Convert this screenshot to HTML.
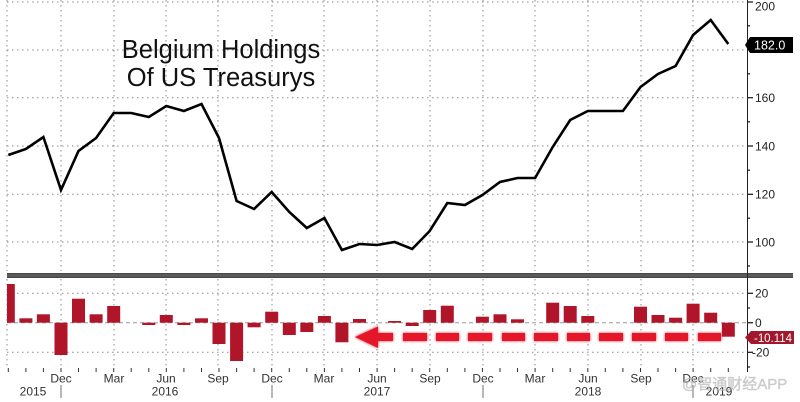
<!DOCTYPE html>
<html><head><meta charset="utf-8"><style>
html,body{margin:0;padding:0;background:#fff;}
svg{display:block;}
text{font-family:"Liberation Sans","Noto Sans CJK SC",sans-serif;}
</style></head><body>
<svg width="800" height="402" viewBox="0 0 800 402" xmlns="http://www.w3.org/2000/svg">
<defs>
<filter id="glow" x="-20%" y="-100%" width="140%" height="300%">
<feGaussianBlur in="SourceGraphic" stdDeviation="1.4" result="b"/>
<feMerge><feMergeNode in="b"/><feMergeNode in="SourceGraphic"/></feMerge>
</filter>
</defs>
<rect width="800" height="402" fill="#fff"/>
<g stroke="#8a8a8a" stroke-width="1" stroke-dasharray="1.5 3.5" fill="none">
<line x1="7" y1="2" x2="747" y2="2"/>
<line x1="7" y1="50" x2="747" y2="50"/>
<line x1="7" y1="97.7" x2="747" y2="97.7"/>
<line x1="7" y1="146" x2="747" y2="146"/>
<line x1="7" y1="194.3" x2="747" y2="194.3"/>
<line x1="7" y1="242" x2="747" y2="242"/>
<line x1="7" y1="0" x2="7" y2="271"/>
<line x1="61" y1="0" x2="61" y2="271"/>
<line x1="114" y1="0" x2="114" y2="271"/>
<line x1="166" y1="0" x2="166" y2="271"/>
<line x1="218" y1="0" x2="218" y2="271"/>
<line x1="272" y1="0" x2="272" y2="271"/>
<line x1="324" y1="0" x2="324" y2="271"/>
<line x1="377" y1="0" x2="377" y2="271"/>
<line x1="430" y1="0" x2="430" y2="271"/>
<line x1="483" y1="0" x2="483" y2="271"/>
<line x1="535" y1="0" x2="535" y2="271"/>
<line x1="588" y1="0" x2="588" y2="271"/>
<line x1="641" y1="0" x2="641" y2="271"/>
<line x1="693" y1="0" x2="693" y2="271"/>
<line x1="7" y1="293.3" x2="747" y2="293.3"/>
<line x1="7" y1="352.3" x2="747" y2="352.3"/>
<line x1="7" y1="279" x2="7" y2="369"/>
<line x1="61" y1="279" x2="61" y2="369"/>
<line x1="114" y1="279" x2="114" y2="369"/>
<line x1="166" y1="279" x2="166" y2="369"/>
<line x1="218" y1="279" x2="218" y2="369"/>
<line x1="272" y1="279" x2="272" y2="369"/>
<line x1="324" y1="279" x2="324" y2="369"/>
<line x1="377" y1="279" x2="377" y2="369"/>
<line x1="430" y1="279" x2="430" y2="369"/>
<line x1="483" y1="279" x2="483" y2="369"/>
<line x1="535" y1="279" x2="535" y2="369"/>
<line x1="588" y1="279" x2="588" y2="369"/>
<line x1="641" y1="279" x2="641" y2="369"/>
<line x1="693" y1="279" x2="693" y2="369"/>
</g>
<line x1="7" y1="322.7" x2="747" y2="322.7" stroke="#999" stroke-width="1" stroke-dasharray="4 3"/>

<text x="221" y="58" font-size="25.5" text-anchor="middle" fill="#111">Belgium Holdings</text>
<text x="221" y="86" font-size="25.5" text-anchor="middle" fill="#111">Of US Treasurys</text>

<polyline fill="none" stroke="#000" stroke-width="2.6" stroke-linejoin="miter" points="8.3,155 25.9,149 43.4,137 61.0,190 78.5,151 96.1,138 113.7,113 131.2,113 148.8,117 166.3,106 183.9,111 201.5,104 219.0,138 236.6,201 254.1,209 271.7,192 289.3,212 306.8,228 324.4,218 341.9,250 359.5,244 377.1,245 394.6,242 412.2,249 429.7,231 447.3,203 464.9,205 482.4,195 500.0,182 517.5,178 535.1,178 552.7,147 570.2,120 587.8,111 605.3,111 622.9,111 640.5,87 658.0,74 675.6,66 693.1,35 710.7,20 728.3,44"/>

<rect x="7" y="273" width="786" height="5" fill="#4a4a4a"/>
<rect x="7" y="274.3" width="786" height="2.2" fill="#5e5e5e"/>

<g fill="#b01529">
<rect x="7" y="284" width="7.8" height="38.7"/>
<rect x="19.4" y="318.3" width="13" height="4.4"/>
<rect x="36.9" y="314.3" width="13" height="8.4"/>
<rect x="54.5" y="322.7" width="13" height="32.3"/>
<rect x="72.0" y="298.7" width="13" height="24"/>
<rect x="89.6" y="314.3" width="13" height="8.4"/>
<rect x="107.2" y="306" width="13" height="16.7"/>
<rect x="142.3" y="322.7" width="13" height="2.3"/>
<rect x="159.8" y="315" width="13" height="7.7"/>
<rect x="177.4" y="322.7" width="13" height="2.3"/>
<rect x="195.0" y="318.3" width="13" height="4.4"/>
<rect x="212.5" y="322.7" width="13" height="21.3"/>
<rect x="230.1" y="322.7" width="13" height="38.3"/>
<rect x="247.6" y="322.7" width="13" height="4.6"/>
<rect x="265.2" y="311.7" width="13" height="11"/>
<rect x="282.8" y="322.7" width="13" height="12.3"/>
<rect x="300.3" y="322.7" width="13" height="9.3"/>
<rect x="317.9" y="316" width="13" height="6.7"/>
<rect x="335.4" y="322.7" width="13" height="19.6"/>
<rect x="353.0" y="319" width="13" height="3.7"/>
<rect x="388.1" y="321" width="13" height="1.7"/>
<rect x="405.7" y="322.7" width="13" height="3.3"/>
<rect x="423.2" y="310" width="13" height="12.7"/>
<rect x="440.8" y="305.7" width="13" height="17"/>
<rect x="475.9" y="316.7" width="13" height="6"/>
<rect x="493.5" y="314.3" width="13" height="8.4"/>
<rect x="511.0" y="319.3" width="13" height="3.4"/>
<rect x="546.2" y="302.7" width="13" height="20"/>
<rect x="563.7" y="306" width="13" height="16.7"/>
<rect x="581.3" y="316" width="13" height="6.7"/>
<rect x="634.0" y="306.7" width="13" height="16"/>
<rect x="651.5" y="315" width="13" height="7.7"/>
<rect x="669.1" y="317.7" width="13" height="5"/>
<rect x="686.6" y="303.7" width="13" height="19"/>
<rect x="704.2" y="312.7" width="13" height="10"/>
<rect x="721.8" y="322.7" width="13" height="14"/>
</g>

<g fill="#e3132b" filter="url(#glow)">
<polygon points="355,337 378,326.5 378,333 393,333 393,341 378,341 378,348"/>
<rect x="403" y="333" width="24" height="8"/>
<rect x="436" y="333" width="23" height="8"/>
<rect x="468" y="333" width="24" height="8"/>
<rect x="502" y="333" width="23" height="8"/>
<rect x="534" y="333" width="24" height="8"/>
<rect x="567" y="333" width="23" height="8"/>
<rect x="599" y="333" width="24" height="8"/>
<rect x="632" y="333" width="24" height="8"/>
<rect x="665" y="333" width="23" height="8"/>
<rect x="698" y="333" width="23" height="8"/>
</g>

<line x1="747.5" y1="0" x2="747.5" y2="372" stroke="#222" stroke-width="1"/>
<g stroke="#222" stroke-width="1.3">
<line x1="747" y1="2" x2="753" y2="2"/>
<line x1="747" y1="50" x2="753" y2="50"/>
<line x1="747" y1="97.7" x2="753" y2="97.7"/>
<line x1="747" y1="146" x2="753" y2="146"/>
<line x1="747" y1="194.3" x2="753" y2="194.3"/>
<line x1="747" y1="242" x2="753" y2="242"/>
<line x1="747" y1="25.8" x2="750" y2="25.8"/>
<line x1="747" y1="73.8" x2="750" y2="73.8"/>
<line x1="747" y1="121.8" x2="750" y2="121.8"/>
<line x1="747" y1="170.2" x2="750" y2="170.2"/>
<line x1="747" y1="218.2" x2="750" y2="218.2"/>
<line x1="747" y1="266" x2="750" y2="266"/>
<line x1="747" y1="293.3" x2="753" y2="293.3"/>
<line x1="747" y1="322.7" x2="753" y2="322.7"/>
<line x1="747" y1="352.3" x2="753" y2="352.3"/>
<line x1="747" y1="308" x2="750" y2="308"/>
<line x1="747" y1="337.5" x2="750" y2="337.5"/>
<line x1="747" y1="367" x2="750" y2="367"/>
</g>
<g font-size="12" fill="#222">
<text x="755" y="10.5">200</text>
<text x="755" y="102">160</text>
<text x="755" y="150.5">140</text>
<text x="755" y="198.5">120</text>
<text x="755" y="246.5">100</text>
<text x="755" y="297.5">20</text>
<text x="755" y="327">0</text>
<text x="752" y="356.5">-20</text>
</g>
<polygon points="745,45 750,37 793,37 793,53 750,53" fill="#000"/>
<text x="754" y="49.5" font-size="12.5" fill="#fff">182.0</text>
<polygon points="745,337.5 751,331 794,331 794,344 751,344" fill="#a3172d"/>
<text x="754" y="342" font-size="12" fill="#fff" textLength="38" lengthAdjust="spacingAndGlyphs">-10.114</text>

<g stroke="#333" stroke-width="1">
<line x1="8.3" y1="368" x2="8.3" y2="372"/>
<line x1="25.9" y1="368" x2="25.9" y2="372"/>
<line x1="43.4" y1="368" x2="43.4" y2="372"/>
<line x1="61.0" y1="368" x2="61.0" y2="372"/>
<line x1="78.5" y1="368" x2="78.5" y2="372"/>
<line x1="96.1" y1="368" x2="96.1" y2="372"/>
<line x1="113.7" y1="368" x2="113.7" y2="372"/>
<line x1="131.2" y1="368" x2="131.2" y2="372"/>
<line x1="148.8" y1="368" x2="148.8" y2="372"/>
<line x1="166.3" y1="368" x2="166.3" y2="372"/>
<line x1="183.9" y1="368" x2="183.9" y2="372"/>
<line x1="201.5" y1="368" x2="201.5" y2="372"/>
<line x1="219.0" y1="368" x2="219.0" y2="372"/>
<line x1="236.6" y1="368" x2="236.6" y2="372"/>
<line x1="254.1" y1="368" x2="254.1" y2="372"/>
<line x1="271.7" y1="368" x2="271.7" y2="372"/>
<line x1="289.3" y1="368" x2="289.3" y2="372"/>
<line x1="306.8" y1="368" x2="306.8" y2="372"/>
<line x1="324.4" y1="368" x2="324.4" y2="372"/>
<line x1="341.9" y1="368" x2="341.9" y2="372"/>
<line x1="359.5" y1="368" x2="359.5" y2="372"/>
<line x1="377.1" y1="368" x2="377.1" y2="372"/>
<line x1="394.6" y1="368" x2="394.6" y2="372"/>
<line x1="412.2" y1="368" x2="412.2" y2="372"/>
<line x1="429.7" y1="368" x2="429.7" y2="372"/>
<line x1="447.3" y1="368" x2="447.3" y2="372"/>
<line x1="464.9" y1="368" x2="464.9" y2="372"/>
<line x1="482.4" y1="368" x2="482.4" y2="372"/>
<line x1="500.0" y1="368" x2="500.0" y2="372"/>
<line x1="517.5" y1="368" x2="517.5" y2="372"/>
<line x1="535.1" y1="368" x2="535.1" y2="372"/>
<line x1="552.7" y1="368" x2="552.7" y2="372"/>
<line x1="570.2" y1="368" x2="570.2" y2="372"/>
<line x1="587.8" y1="368" x2="587.8" y2="372"/>
<line x1="605.3" y1="368" x2="605.3" y2="372"/>
<line x1="622.9" y1="368" x2="622.9" y2="372"/>
<line x1="640.5" y1="368" x2="640.5" y2="372"/>
<line x1="658.0" y1="368" x2="658.0" y2="372"/>
<line x1="675.6" y1="368" x2="675.6" y2="372"/>
<line x1="693.1" y1="368" x2="693.1" y2="372"/>
<line x1="710.7" y1="368" x2="710.7" y2="372"/>
<line x1="728.3" y1="368" x2="728.3" y2="372"/>
</g>
<g stroke="#888" stroke-width="1.2">
<line x1="61" y1="385" x2="61" y2="398"/>
<line x1="272" y1="385" x2="272" y2="398"/>
<line x1="483" y1="385" x2="483" y2="398"/>
<line x1="693" y1="385" x2="693" y2="398"/>
</g>
<g font-size="12" fill="#333" text-anchor="middle">
<text x="61" y="382.5">Dec</text>
<text x="114" y="382.5">Mar</text>
<text x="166" y="382.5">Jun</text>
<text x="218" y="382.5">Sep</text>
<text x="272" y="382.5">Dec</text>
<text x="324" y="382.5">Mar</text>
<text x="377" y="382.5">Jun</text>
<text x="430" y="382.5">Sep</text>
<text x="483" y="382.5">Dec</text>
<text x="535" y="382.5">Mar</text>
<text x="588" y="382.5">Jun</text>
<text x="641" y="382.5">Sep</text>
<text x="693" y="382.5">Dec</text>
<text x="33" y="395.5">2015</text>
<text x="165" y="395.5">2016</text>
<text x="377" y="395.5">2017</text>
<text x="588" y="395.5">2018</text>
<text x="719" y="395.5">2019</text>
</g>
<text x="682" y="389" font-size="15" fill="#c8c8c8" fill-opacity="0.75" stroke="#999" stroke-opacity="0.35" stroke-width="0.6">@智通财经APP</text>
</svg>
</body></html>
